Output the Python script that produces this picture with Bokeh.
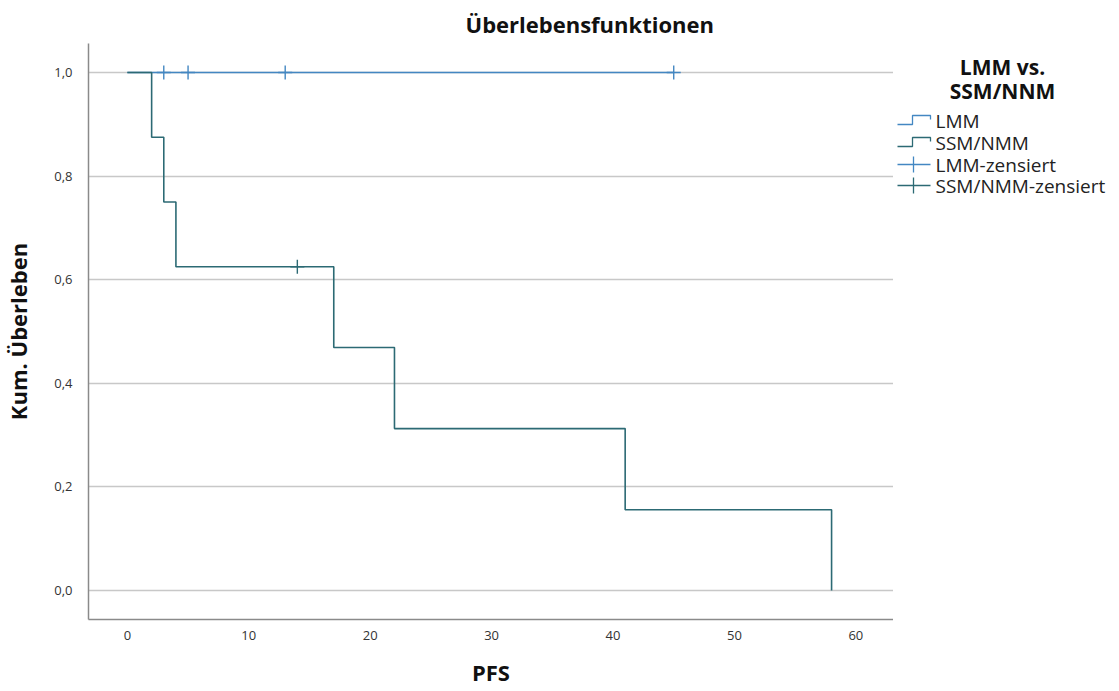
from bokeh.plotting import figure
from bokeh.models import Range1d, FixedTicker, CustomJSTickFormatter
from bokeh.layouts import row
from bokeh.embed import file_html
from bokeh.resources import INLINE
from bokeh.core.properties import value

# ---- data ----
ssm_time = [0, 2, 3, 4, 17, 22, 41, 58]
ssm_surv = [1.0, 0.875, 0.75, 0.625, 0.469, 0.3125, 0.156, 0.0]
ssm_cens_time = [14]
ssm_cens_surv = [0.625]

lmm_time = [0, 45]
lmm_surv = [1.0, 1.0]
lmm_cens_time = [3, 5, 13, 45]
lmm_cens_surv = [1.0, 1.0, 1.0, 1.0]

x_ticks = [0, 10, 20, 30, 40, 50, 60]
y_ticks = [0.0, 0.2, 0.4, 0.6, 0.8, 1.0]

legend_labels = ["LMM", "SSM/NMM", "LMM-zensiert", "SSM/NMM-zensiert"]
legend_title = ["LMM vs.", "SSM/NNM"]

LMM_C = "#4387c2"
SSM_C = "#2c6a74"
FONT = "Open Sans"

H = 690
TOP, BOTTOM = 43, H - 619
p = figure(width=893, height=H, output_backend="svg", toolbar_location=None,
           x_range=Range1d(-3.2, 63.1), y_range=Range1d(-0.056, 1.056),
           min_border_left=88, min_border_right=0, min_border_top=TOP,
           min_border_bottom=BOTTOM)
p.outline_line_color = None
p.title.text = "Überlebensfunktionen"
p.title.align = "left"
p.title.offset = 377
p.title.text_font = FONT
p.title.text_font_size = "22px"
p.title.text_font_style = "bold"
p.title.text_color = "#111111"

p.xgrid.grid_line_color = None
p.ygrid.grid_line_color = "#c8c8c8"
p.ygrid.grid_line_width = 1.5

fmt = CustomJSTickFormatter(code="return tick.toFixed(1).replace('.', ',');")
p.yaxis.ticker = FixedTicker(ticks=y_ticks)
p.yaxis.formatter = fmt
p.xaxis.ticker = FixedTicker(ticks=x_ticks)

for ax in (p.xaxis[0], p.yaxis[0]):
    ax.axis_line_color = "#8a8a8a"
    ax.axis_line_width = 1.5
    ax.major_tick_line_color = None
    ax.minor_tick_line_color = None
    ax.major_label_text_font = FONT
    ax.major_label_text_font_size = "13px"
    ax.major_label_text_color = "#333333"
    ax.axis_label_text_font = FONT
    ax.axis_label_text_font_size = "22px"
    ax.axis_label_text_font_style = "bold"
    ax.axis_label_text_color = "#111111"

p.xaxis.axis_label = "PFS"
p.yaxis.axis_label = "Kum. Überleben"
p.xaxis.major_label_standoff = 5
p.xaxis.axis_label_standoff = 14
p.yaxis.major_label_standoff = 10
p.yaxis.axis_label_standoff = 18

p.step(lmm_time, lmm_surv, mode="after", line_color=LMM_C, line_width=1.6)
p.step(ssm_time, ssm_surv, mode="after", line_color=SSM_C, line_width=1.6)
p.scatter(lmm_cens_time, lmm_cens_surv, marker="cross", size=14,
          line_color=LMM_C, line_width=1.4)
p.scatter(ssm_cens_time, ssm_cens_surv, marker="cross", size=14,
          line_color=SSM_C, line_width=1.4)

# ---- legend panel (page pixel coordinates) ----
lg = figure(width=218, height=H, output_backend="svg", toolbar_location=None,
            x_range=Range1d(893, 1111), y_range=Range1d(619, TOP),
            min_border_left=0, min_border_right=0, min_border_top=TOP,
            min_border_bottom=BOTTOM, title=None)
lg.axis.visible = False
lg.grid.visible = False
lg.outline_line_color = None

lg.text(x=[1002, 1002], y=[66, 90], text=legend_title,
        text_font=value(FONT), text_font_size="21px", text_font_style="bold",
        text_align="center", text_baseline="middle", text_color="#111111")

ys = [120, 142, 164, 185]
cols = [LMM_C, SSM_C, LMM_C, SSM_C]
lg.text(x=[935] * 4, y=ys, text=legend_labels, text_font=value(FONT),
        text_font_size="19px", text_align="left", text_baseline="middle",
        text_color="#222222")
for i in range(2):
    yc = ys[i]
    lg.line([897, 912, 912, 930, 930], [yc + 4, yc + 4, yc - 5, yc - 5, yc - 1],
            line_color=cols[i], line_width=1.3)
for i in range(2, 4):
    yc = ys[i]
    lg.line([897, 930], [yc, yc], line_color=cols[i], line_width=1.3)
    lg.line([913, 913], [yc - 8, yc + 8], line_color=cols[i], line_width=1.3)

layout = row(p, lg)
open("out.html", "w").write(file_html(layout, INLINE))
